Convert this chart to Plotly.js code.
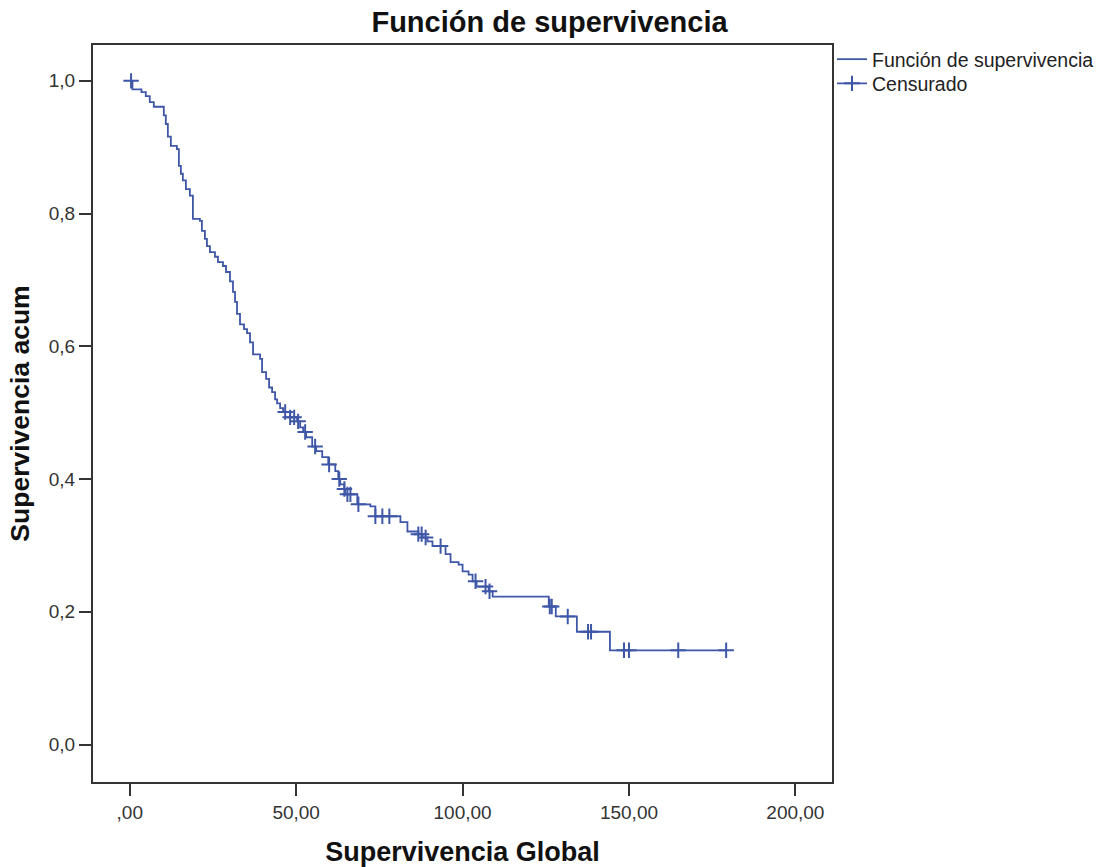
<!DOCTYPE html>
<html>
<head>
<meta charset="utf-8">
<script src="https://cdn.plot.ly/plotly-3.0.1.min.js"></script>
<style>html,body{margin:0;padding:0;background:#fff;}#chart{width:1099px;height:867px;}</style>
</head>
<body>
<div id="chart"></div>
<script>
// Step function: time at which survival drops, and new survival level
const stepTimes = [0, 0.81, 3.52, 4.82, 6.02, 7.23, 10.24, 10.84, 11.45, 12.35, 14.16, 14.76, 15.36, 15.96, 16.87, 18.07, 18.98, 21.08, 21.69, 22.59, 23.19, 24.10, 25.60, 26.51, 28.01, 28.92, 30.12, 31.02, 31.63, 32.23, 33.13, 34.34, 35.24, 36.14, 37.05, 39.16, 39.76, 40.96, 41.87, 42.77, 43.67, 44.28, 45.18, 46.08, 48.19, 50.30, 51.20, 52.11, 53.01, 54.82, 56.02, 57.83, 59.64, 61.75, 62.65, 63.25, 64.46, 64.76, 68.37, 72.29, 73.80, 81.33, 83.43, 86.75, 87.95, 89.46, 90.96, 94.88, 96.39, 98.80, 100.00, 101.81, 103.01, 104.22, 107.83, 109.04, 125.90, 128.01, 134.34, 144.28, 179.20];
const stepSurv = [1.000, 0.987, 0.983, 0.977, 0.968, 0.961, 0.948, 0.935, 0.916, 0.902, 0.897, 0.872, 0.860, 0.850, 0.837, 0.827, 0.792, 0.789, 0.774, 0.762, 0.751, 0.742, 0.735, 0.727, 0.721, 0.712, 0.698, 0.682, 0.667, 0.649, 0.633, 0.626, 0.620, 0.606, 0.588, 0.581, 0.561, 0.551, 0.538, 0.531, 0.520, 0.514, 0.507, 0.501, 0.493, 0.487, 0.478, 0.471, 0.463, 0.449, 0.442, 0.433, 0.422, 0.412, 0.400, 0.392, 0.385, 0.377, 0.362, 0.359, 0.344, 0.335, 0.321, 0.317, 0.312, 0.306, 0.299, 0.287, 0.275, 0.271, 0.261, 0.256, 0.246, 0.238, 0.231, 0.223, 0.208, 0.193, 0.170, 0.142, 0.142];

// Censored observations
const censorTimes = [0.4, 46.7, 48.2, 49.4, 50.6, 52.7, 55.7, 59.9, 62.95, 64.5, 65.4, 66.3, 68.7, 73.8, 75.9, 78.0, 86.7, 87.7, 88.9, 93.4, 103.9, 106.9, 108.1, 126.2, 126.8, 131.6, 137.7, 138.6, 148.5, 150.0, 164.8, 179.2];
const censorSurv = [1.000, 0.501, 0.493, 0.493, 0.487, 0.471, 0.449, 0.422, 0.400, 0.385, 0.377, 0.377, 0.362, 0.344, 0.344, 0.344, 0.317, 0.317, 0.312, 0.299, 0.246, 0.238, 0.231, 0.208, 0.208, 0.193, 0.170, 0.170, 0.142, 0.142, 0.142, 0.142];

const xTickVals = [0, 50, 100, 150, 200];
const xTickText = [',00', '50,00', '100,00', '150,00', '200,00'];
const yTickVals = [0, 0.2, 0.4, 0.6, 0.8, 1.0];
const yTickText = ['0,0', '0,2', '0,4', '0,6', '0,8', '1,0'];

const blue = '#3f57a7';
const axisColor = '#333333';
const font = 'Liberation Sans, Arial, sans-serif';

const traces = [
  {
    x: stepTimes, y: stepSurv, type: 'scatter', mode: 'lines',
    line: {shape: 'hv', color: blue, width: 1.8},
    name: 'Función de supervivencia', hoverinfo: 'skip', legend: 'legend'
  },
  {
    x: censorTimes, y: censorSurv, type: 'scatter', mode: 'markers',
    marker: {symbol: 'cross-thin', size: 11, line: {color: blue, width: 2}, color: blue},
    name: 'Censurado', showlegend: false, hoverinfo: 'skip'
  },
  {
    x: [null], y: [null], type: 'scatter', mode: 'lines+markers',
    line: {color: blue, width: 1.8},
    marker: {symbol: 'cross-thin', size: 11, line: {color: blue, width: 2}, color: blue},
    name: 'Censurado', legend: 'legend2'
  }
];

const legendBase = {xref: 'paper', yref: 'paper', x: 1.0, xanchor: 'left', yanchor: 'top',
  bgcolor: 'rgba(0,0,0,0)', font: {family: font, size: 19.5, color: '#222'}, itemwidth: 30};

const layout = {
  width: 1099, height: 867,
  paper_bgcolor: '#ffffff', plot_bgcolor: '#ffffff',
  margin: {l: 93, r: 267, t: 45, b: 85, autoexpand: false},
  font: {family: font, color: '#222'},
  title: {text: 'Función de supervivencia', x: 0.5, xref: 'container', xanchor: 'center', y: 0.975, yanchor: 'middle',
          font: {family: font, size: 29, color: '#111', weight: 'bold'}},
  xaxis: {
    range: [-11.04, 211.0], tickvals: xTickVals, ticktext: xTickText,
    showgrid: false, zeroline: false, showline: true, mirror: true,
    linecolor: axisColor, linewidth: 2, ticks: 'outside', ticklen: 12, tickwidth: 2, tickcolor: axisColor,
    tickfont: {family: font, size: 19, color: '#333'},
    title: {text: 'Supervivencia Global', standoff: 20, font: {family: font, size: 27, color: '#111', weight: 'bold'}}
  },
  yaxis: {
    range: [-0.0564, 1.054], tickvals: yTickVals, ticktext: yTickText,
    showgrid: false, zeroline: false, showline: true, mirror: true,
    linecolor: axisColor, linewidth: 2, ticks: 'outside', ticklen: 12, tickwidth: 2, tickcolor: axisColor,
    tickfont: {family: font, size: 19, color: '#333'},
    title: {text: 'Supervivencia acum', standoff: 12, font: {family: font, size: 26.5, color: '#111', weight: 'bold'}}
  },
  showlegend: true,
  legend: Object.assign({}, legendBase, {y: 1.0068}),
  legend2: Object.assign({}, legendBase, {y: 0.974})
};

Plotly.newPlot('chart', traces, layout, {displayModeBar: false, staticPlot: true});
</script>
</body>
</html>
